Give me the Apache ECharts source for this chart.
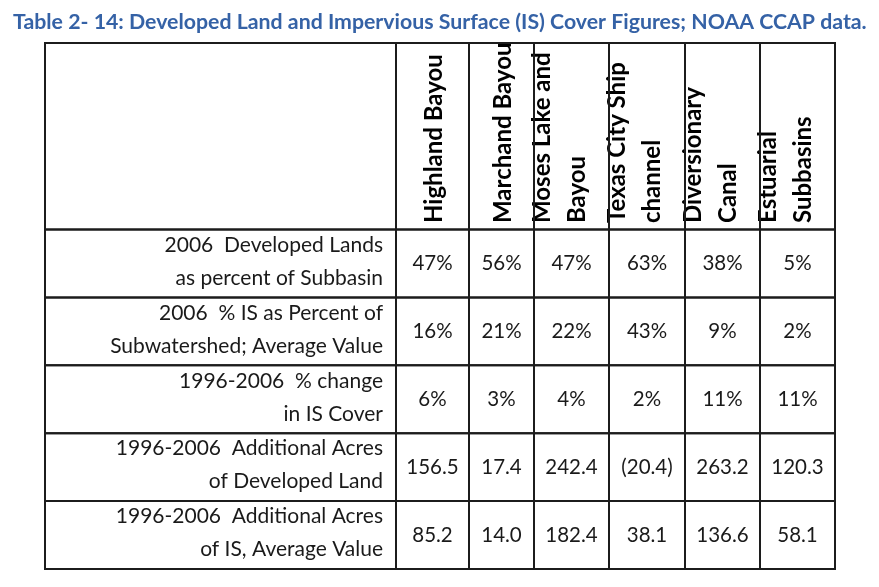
<!DOCTYPE html>
<html><head><meta charset="utf-8">
<script src="https://cdn.jsdelivr.net/npm/echarts@6/dist/echarts.min.js"></script>
<style>html,body{margin:0;padding:0;background:#fff}#c{width:879px;height:587px}</style>
</head><body><div id="c"></div>
<script>
// ---- data ----
const titleText = 'Table 2- 14: Developed Land and Impervious Surface (IS) Cover Figures; NOAA CCAP data.';
const headerLines = [['Highland Bayou'], ['Marchand Bayou'], ['Moses Lake and', 'Bayou'], ['Texas City Ship', 'channel'], ['Diversionary', 'Canal'], ['Estuarial', 'Subbasins']];
const rowLabels = [
  ['2006  Developed Lands', 'as percent of Subbasin'],
  ['2006  % IS as Percent of', 'Subwatershed; Average Value'],
  ['1996-2006  % change', 'in IS Cover'],
  ['1996-2006  Additional Acres', 'of Developed Land'],
  ['1996-2006  Additional Acres', 'of IS, Average Value']
];
const developedPct2006 = [47, 56, 47, 63, 38, 5];
const isPct2006 = [16, 21, 22, 43, 9, 2];
const isChangePct = [6, 3, 4, 2, 11, 11];
const addDevAcres = [156.5, 17.4, 242.4, -20.4, 263.2, 120.3];
const addIsAcres = [85.2, 14.0, 182.4, 38.1, 136.6, 58.1];
const rowKinds = ['pct', 'pct', 'pct', 'acres', 'acres'];
const rowValues = [developedPct2006, isPct2006, isChangePct, addDevAcres, addIsAcres];

// ---- layout / style ----
const colEdges = [45, 396, 469, 534, 609, 685, 760, 835];
const headTop = 43, bodyTop = 229.5, bodyBottom = 569;
const FONT = 'Lato';
const lineColor = '#1c1c1c';
const textColor = '#1a1a1a';

function fmt(v, kind) {
  if (kind === 'pct') return v + '%';
  return v < 0 ? '(' + Math.abs(v).toFixed(1) + ')' : v.toFixed(1);
}
const rowKeys = rowLabels.map(l => l.join(' '));
const colKeys = ['label'].concat(headerLines.map(l => l.join(' ')));

const grid = [], xAxis = [], yAxis = [], series = [];
function addGrid(c, top, height, yData, inverse) {
  const gi = grid.length;
  grid.push({ left: colEdges[c], top: top, width: colEdges[c + 1] - colEdges[c], height: height });
  xAxis.push({ gridIndex: gi, type: 'category', data: [colKeys[c]], show: false });
  yAxis.push({ gridIndex: gi, type: 'category', data: yData, show: false, inverse: !!inverse });
  return gi;
}
function cellBox(api) {
  const p = api.coord([api.value(0), api.value(1)]);
  const s = api.size([1, 1]);
  return { x: p[0] - s[0] / 2, y: p[1] - s[1] / 2, w: s[0], h: s[1] };
}
function border(b) {
  return { type: 'rect', shape: { x: b.x, y: b.y, width: b.w, height: b.h },
    style: { fill: null, stroke: lineColor, lineWidth: 2 }, z2: 10 };
}

for (let c = 0; c < colKeys.length; c++) {
  // header
  const gh = addGrid(c, headTop, bodyTop - headTop, ['header']);
  series.push({
    type: 'custom', xAxisIndex: gh, yAxisIndex: gh, silent: true,
    data: [[colKeys[c], 'header', c]],
    renderItem: function (params, api) {
      const b = cellBox(api);
      const children = [];
      if (c > 0) {
        const lines = headerLines[c - 1];
        lines.forEach(function (t, i) {
          const cx = lines.length === 1 ? b.x + b.w / 2 + 2 : b.x + 8 + i * 35;
          children.push({ type: 'text', x: cx, y: b.y + b.h - 6.5, rotation: Math.PI / 2,
            style: { text: t, x: 0, y: 0, align: 'left', verticalAlign: 'middle',
              font: 'bold 24px ' + FONT, fill: '#000' } });
        });
      }
      children.push(border(b));
      return { type: 'group', children: children };
    }
  });
  // body
  const gb = addGrid(c, bodyTop, bodyBottom - bodyTop, rowKeys, true);
  series.push({
    type: 'custom', xAxisIndex: gb, yAxisIndex: gb, silent: true,
    data: rowKeys.map((k, r) => [colKeys[c], k, r]),
    renderItem: function (params, api) {
      const b = cellBox(api);
      const r = api.value(2);
      const children = [];
      if (c === 0) {
        children.push({ type: 'text',
          style: { text: rowLabels[r].join('\n'), x: b.x + b.w - 13, y: b.y + b.h / 2 - 2,
            align: 'right', verticalAlign: 'middle', lineHeight: 33,
            font: '21px ' + FONT, fill: textColor } });
      } else {
        children.push({ type: 'text',
          style: { text: fmt(rowValues[r][c - 1], rowKinds[r]), x: b.x + b.w / 2, y: b.y + b.h / 2,
            align: 'center', verticalAlign: 'middle',
            font: '20.5px ' + FONT, fill: textColor } });
      }
      children.push(border(b));
      return { type: 'group', children: children };
    }
  });
}

const chart = echarts.init(document.getElementById('c'), null, { renderer: 'canvas' });
chart.setOption({
  backgroundColor: '#ffffff',
  animation: false,
  title: { text: titleText, left: 8, top: 7,
    textStyle: { color: '#3562a6', fontWeight: 'bold', fontSize: 21.3, fontFamily: FONT } },
  grid: grid, xAxis: xAxis, yAxis: yAxis, series: series
});
</script></body></html>
